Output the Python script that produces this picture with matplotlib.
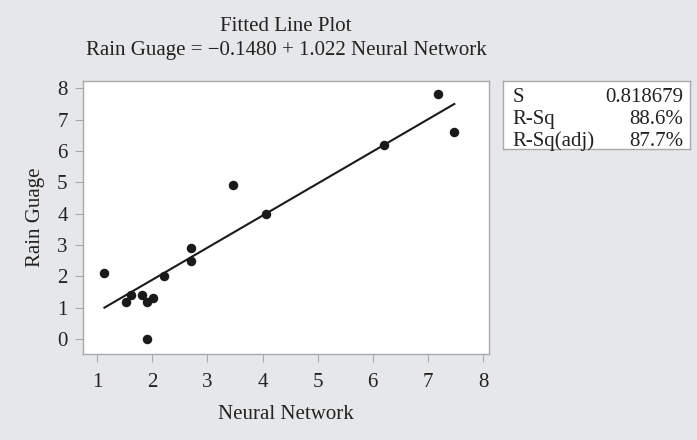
import numpy as np
import matplotlib.pyplot as plt

# Neural Network estimate vs rain gauge reading
neural_network = [1.13, 1.53, 1.62, 1.81, 1.90, 2.02, 1.90, 2.21, 2.70, 2.70,
                  3.47, 4.06, 6.20, 7.19, 7.48]
rain_guage = [2.1, 1.2, 1.4, 1.4, 1.2, 1.3, 0.0, 2.0, 2.5, 2.9,
              4.9, 4.0, 6.2, 7.8, 6.6]

intercept = -0.1480
slope = 1.022

stat_names = ['S', 'R-Sq', 'R-Sq(adj)']
stat_values = ['0.818679', '88.6%', '87.7%']

x_ticks = [1, 2, 3, 4, 5, 6, 7, 8]
y_ticks = [0, 1, 2, 3, 4, 5, 6, 7, 8]


def main():
    plt.rcParams['font.family'] = ['Liberation Serif', 'DejaVu Serif']
    bg = '#e6e7e9'
    edge = '#a8a9ab'
    txt = '#222222'
    fs = 15

    fig = plt.figure(figsize=(6.97, 4.40), dpi=100, facecolor=bg)
    ax = fig.add_axes([0.119, 0.1955, 0.5826, 0.6205])
    ax.set_facecolor('white')

    xs = np.array([min(neural_network), max(neural_network)])
    ax.plot(xs, intercept + slope * xs, color='#1a1a1a', lw=1.5, zorder=2)
    ax.scatter(neural_network, rain_guage, s=34, color='#1a1a1a', zorder=3)

    ax.set_xlim(0.74, 8.11)
    ax.set_ylim(-0.47, 8.23)
    ax.set_xticks(x_ticks)
    ax.set_yticks(y_ticks)
    ax.tick_params(axis='both', direction='out', length=6, width=0.8,
                   color=edge, labelsize=fs, labelcolor=txt, pad=5)
    ax.tick_params(axis='x', pad=8)
    for sp in ax.spines.values():
        sp.set_color(edge)
        sp.set_linewidth(1.0)

    ax.set_xlabel('Neural Network', fontsize=fs, color=txt, labelpad=9)
    ax.set_ylabel('Rain Guage', fontsize=fs, color=txt, labelpad=9)
    ax.set_title('Fitted Line Plot\nRain Guage = \u22120.1480 + 1.022 Neural Network',
                 fontsize=fs, color=txt, pad=19, linespacing=1.3)

    # stats box
    box = fig.add_axes([0.7217, 0.6614, 0.2683, 0.1546])
    box.set_facecolor('white')
    box.set_xticks([])
    box.set_yticks([])
    for sp in box.spines.values():
        sp.set_color(edge)
        sp.set_linewidth(1.0)
    box.set_xlim(0, 1)
    box.set_ylim(0, 1)
    for i, (name, val) in enumerate(zip(stat_names, stat_values)):
        yy = 0.75 - i * 0.32
        box.text(0.05, yy, name, ha='left', va='center', fontsize=fs, color=txt)
        box.text(0.965, yy, val, ha='right', va='center', fontsize=fs, color=txt)

    fig.savefig('out.png', dpi=100, facecolor=bg)


if __name__ == "__main__":
    main()
